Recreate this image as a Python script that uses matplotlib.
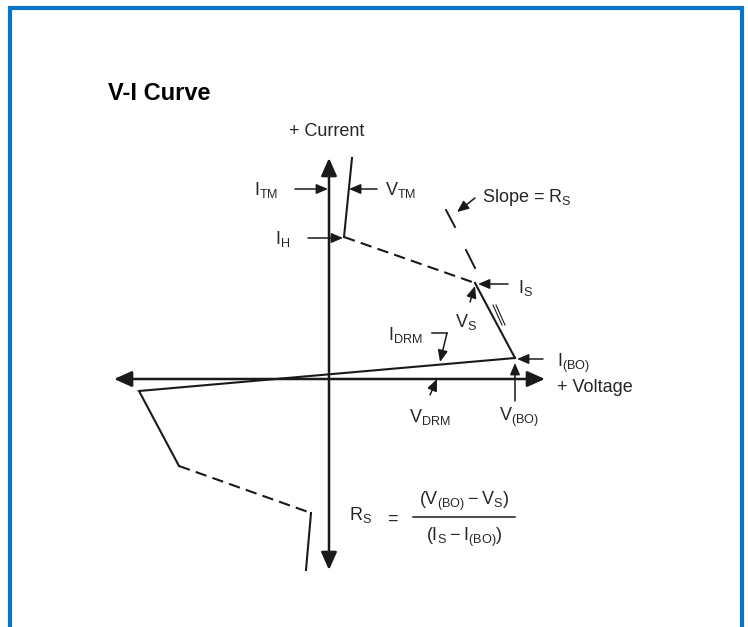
import matplotlib
matplotlib.use('Agg')
import matplotlib.pyplot as plt
from matplotlib.patches import Rectangle

# Curve of the thyristor, in (voltage, current) units, origin at axis crossing
on_state_v = [23, 15]
on_state_i = [221, 142]

neg_res_v = [15, 146]          # dashed part, I_H -> V_S
neg_res_i = [142, 96]

slope_v = [146, 186]           # slope R_S, V_S -> V_(BO)
slope_i = [96, 21]

blocking_v = [186, -190, -150]  # forward blocking through origin, then reverse
blocking_i = [21, -12, -87]

rev_dash_v = [-150, -18]
rev_dash_i = [-87, -134]

rev_on_v = [-18, -23]
rev_on_i = [-134, -191]

# axis extents
v_axis = [-215, 216]
i_axis = [-191, 221]

LINE = '#1a1a1a'
TEXT = '#262626'
BLUE = '#0a74c6'

plt.rcParams['font.family'] = ['Liberation Sans', 'DejaVu Sans']
plt.rcParams['mathtext.fontset'] = 'custom'
plt.rcParams['mathtext.rm'] = 'Liberation Sans'


def arrow(ax, tail, tip, lw=1.1, hl=0.7, hw=0.3, ms=10):
    ax.annotate('', xy=tip, xytext=tail,
                arrowprops=dict(arrowstyle='-|>,head_length=%s,head_width=%s' % (hl, hw),
                                lw=lw, color=LINE, shrinkA=0, shrinkB=0,
                                mutation_scale=ms))


def label(ax, x, y, s, ha='center', size=13):
    ax.text(x, y, s, ha=ha, va='center', fontsize=size, color=TEXT)


def main() -> None:
    fig = plt.figure(figsize=(7.48, 6.27), dpi=100)
    ax = fig.add_axes([0, 0, 1, 1])
    ax.set_xlim(-329, 419)
    ax.set_ylim(-248, 379)
    ax.axis('off')

    # blue frame, open at the bottom edge of the picture
    fig.add_artist(Rectangle((10 / 748, -0.05), 732 / 748, 1 - 8 / 627 + 0.05,
                             transform=fig.transFigure, fill=False,
                             edgecolor=BLUE, linewidth=3))

    fig.text(108 / 748, 1 - 93 / 627, 'V-I Curve', fontsize=17,
             fontweight='bold', color='black', va='center')

    # axes with arrows at both ends
    ax.annotate('', xy=(v_axis[0], 0), xytext=(v_axis[1], 0),
                arrowprops=dict(arrowstyle='<|-|>,head_length=0.9,head_width=0.4',
                                lw=1.8, color=LINE, shrinkA=0, shrinkB=0,
                                mutation_scale=12))
    ax.annotate('', xy=(0, i_axis[0]), xytext=(0, i_axis[1]),
                arrowprops=dict(arrowstyle='<|-|>,head_length=0.9,head_width=0.4',
                                lw=1.8, color=LINE, shrinkA=0, shrinkB=0,
                                mutation_scale=12))

    # characteristic
    dash = (0, (5.5, 3))
    ax.plot(on_state_v, on_state_i, color=LINE, lw=1.5)
    ax.plot(neg_res_v, neg_res_i, color=LINE, lw=1.5, linestyle=dash)
    ax.plot(slope_v, slope_i, color=LINE, lw=1.5)
    ax.plot(blocking_v, blocking_i, color=LINE, lw=1.5, solid_joinstyle='miter')
    ax.plot(rev_dash_v, rev_dash_i, color=LINE, lw=1.5, linestyle=dash)
    ax.plot(rev_on_v, rev_on_i, color=LINE, lw=1.5)

    # slope indicator and parallel marks
    ax.plot([117, 126], [169, 152], color=LINE, lw=1.4)
    ax.plot([137, 146], [129, 111], color=LINE, lw=1.4)
    ax.plot([164, 173], [74, 54], color=LINE, lw=0.8)
    ax.plot([167, 176], [74, 54], color=LINE, lw=0.8)

    # labels
    label(ax, -2, 248, '+ Current')
    label(ax, 228, -9, '+ Voltage', ha='left')

    label(ax, -63, 189, r'$\mathregular{I_{TM}}$')
    arrow(ax, (-34, 190), (-1, 190))
    label(ax, 56, 189, r'$\mathregular{V_{TM}}$', ha='left')
    arrow(ax, (48, 190), (20, 190))

    label(ax, -46, 140, r'$\mathregular{I_H}$')
    arrow(ax, (-21, 141), (14, 141))

    label(ax, 153, 182, r'Slope = $\mathregular{R_S}$', ha='left')
    arrow(ax, (146, 181), (128, 167))

    label(ax, 189, 91, r'$\mathregular{I_S}$', ha='left')
    arrow(ax, (179, 95), (149, 95))

    label(ax, 137, 57, r'$\mathregular{V_S}$')
    arrow(ax, (141, 77), (146, 93))

    label(ax, 76, 44, r'$\mathregular{I_{DRM}}$')
    ax.plot([103, 118], [46, 46], color=LINE, lw=1.1)
    arrow(ax, (118, 46), (111, 17))

    label(ax, 101, -38, r'$\mathregular{V_{DRM}}$')
    arrow(ax, (101, -16), (108, 0))

    label(ax, 190, -38, r'$\mathregular{V_{(BO)}}$')
    arrow(ax, (186, -22), (186, 16))

    label(ax, 228, 16, r'$\mathregular{I_{(BO)}}$', ha='left')
    arrow(ax, (214, 20), (188, 20))

    # R_S formula
    label(ax, 32, -136, r'$\mathregular{R_S}$')
    label(ax, 63, -140, '=')
    label(ax, 135, -122, r'$\mathregular{(V_{(BO)} - V_S)}$')
    ax.plot([84, 186], [-138, -138], color=LINE, lw=1.1)
    label(ax, 135, -158, r'$\mathregular{(I_S - I_{(BO)})}$')

    fig.savefig('out.png', dpi=100)


if __name__ == '__main__':
    main()
